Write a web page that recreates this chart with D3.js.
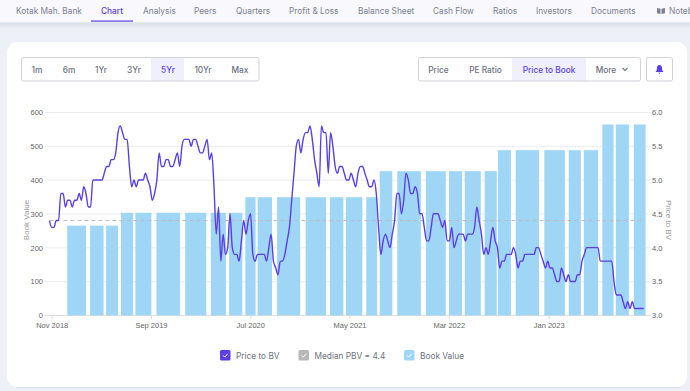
<!DOCTYPE html>
<html>
<head>
<meta charset="utf-8">
<script src="https://cdn.jsdelivr.net/npm/d3@7/dist/d3.min.js"></script>
<style>
  html, body { margin: 0; padding: 0; background: #edf0f7; overflow: hidden; }
  svg { display: block; }
  .ui { font-family: Inter, "Noto Sans", sans-serif; font-size: 8.3px; fill: #6b7280; }
  .tick text { font-family: "Liberation Sans", Arial, sans-serif; font-size: 7.5px; fill: #666; }
  .axis-label { font-family: "Liberation Sans", Arial, sans-serif; font-size: 8px; fill: #999; }
</style>
</head>
<body>
<div id="chart"></div>
<script>
// Weekly price to book readings, first one is the week before the Nov 2018 tick
const priceToBook = [
  4.4, 4.3, 4.3, 4.4, 4.4, 4.8, 4.8, 4.6, 4.7, 4.7, 4.6, 4.7, 4.7, 4.8, 4.7, 4.9, 4.8, 4.6, 4.6, 5.0,
  5.0, 5.0, 5.0, 5.0, 5.1, 5.2, 5.2, 5.3, 5.3, 5.4, 5.7, 5.8, 5.7, 5.6, 5.6, 5.2, 4.9, 5.0, 4.9, 5.0,
  5.0, 5.0, 5.1, 5.0, 4.9, 4.7, 4.8, 5.0, 5.4, 5.2, 5.2, 5.3, 5.3, 5.2, 5.2, 5.3, 5.4, 5.2, 5.5, 5.6,
  5.6, 5.6, 5.5, 5.6, 5.6, 5.5, 5.4, 5.4, 5.5, 5.6, 5.3, 5.4, 4.9, 4.2, 4.6, 3.8, 4.2, 3.9, 4.0, 4.5,
  4.0, 3.9, 3.9, 3.8, 4.1, 4.4, 4.2, 4.4, 4.5, 3.9, 3.8, 3.9, 3.9, 3.9, 3.9, 3.8, 4.0, 4.2, 3.8, 3.7,
  3.6, 3.8, 3.8, 3.9, 4.1, 4.3, 4.7, 5.1, 5.5, 5.6, 5.4, 5.6, 5.7, 5.7, 5.8, 5.6, 5.3, 5.1, 4.9, 5.8,
  5.7, 5.7, 5.1, 5.7, 5.5, 5.2, 5.1, 5.2, 5.2, 5.1, 5.0, 5.0, 5.1, 5.0, 4.9, 5.1, 5.2, 5.2, 5.1, 5.0,
  4.9, 4.9, 5.0, 4.8, 4.3, 3.9, 4.1, 4.2, 4.1, 4.0, 4.2, 4.4, 4.8, 4.8, 4.5, 4.7, 5.1, 5.0, 4.8, 4.8,
  4.9, 4.8, 4.5, 4.5, 4.3, 4.1, 4.1, 4.3, 4.5, 4.5, 4.5, 4.4, 4.3, 4.4, 4.1, 4.1, 4.3, 4.0, 4.1, 4.2,
  4.2, 4.2, 4.1, 4.2, 4.2, 4.2, 4.3, 4.6, 4.4, 4.2, 3.9, 4.0, 3.9, 4.1, 4.3, 4.1, 4.0, 3.7, 3.8, 3.8,
  3.9, 3.9, 3.9, 4.0, 3.9, 3.7, 3.8, 3.8, 3.9, 3.9, 3.9, 3.9, 3.9, 4.0, 4.0, 3.9, 3.8, 3.7, 3.8, 3.7,
  3.7, 3.6, 3.5, 3.5, 3.7, 3.6, 3.5, 3.6, 3.5, 3.5, 3.5, 3.6, 3.6, 3.8, 3.9, 4.0, 4.0, 4.0, 4.0, 4.0,
  4.0, 3.8, 3.8, 3.8, 3.8, 3.8, 3.8, 3.5, 3.3, 3.3, 3.3, 3.2, 3.1, 3.2, 3.1, 3.2, 3.1, 3.1, 3.1, 3.1, 3.1
];

// Book value bars: start and end in weeks from the Nov 2018 tick, then the value
const bookStart = [6.8, 16.8, 23.8, 30.3, 36.6, 45.8, 58.4, 69.6, 77.6, 84.7, 90.1, 98.6, 111.1, 121.7, 128.7,
  137.6, 143.5, 151.2, 163.7, 173.8, 180.7, 189.4, 195.2, 203, 215.5, 226.2, 232.8, 240.9, 246.8, 254.7];
const bookEnd = [15, 22.7, 29, 35.6, 43.6, 56.1, 67.6, 76.2, 83.4, 89.2, 96.4, 108.7, 120, 127.6, 135.9,
  142.4, 149, 161.5, 172.4, 179.5, 187.7, 194.7, 200.9, 213.2, 224.5, 231.5, 239, 245.8, 252.5, 259.8];
const bookValue = [265, 265, 265, 303, 303, 303, 303, 303, 303, 349, 349, 349, 349, 349, 349,
  349, 426, 426, 426, 426, 426, 426, 488, 488, 488, 488, 488, 564, 564, 564];

const medianPbv = 4.4;
const xTickDates = ['2018-11-01', '2019-09-01', '2020-07-01', '2021-05-01', '2022-03-01', '2023-01-01'];
const leftTicks = [0, 100, 200, 300, 400, 500, 600];
const rightTicks = [3.0, 3.5, 4.0, 4.5, 5.0, 5.5, 6.0];

const navItems = ['Kotak Mah. Bank', 'Chart', 'Analysis', 'Peers', 'Quarters', 'Profit & Loss', 'Balance Sheet',
  'Cash Flow', 'Ratios', 'Investors', 'Documents', 'Notebook'];
const navX = [16, 101, 143, 194, 236, 289, 358, 433, 493, 536, 591, 669];
const rangeLabels = ['1m', '6m', '1Yr', '3Yr', '5Yr', '10Yr', 'Max'];
const rangeX = [37, 69, 101, 134, 168, 203, 240];
const metricLabels = ['Price', 'PE Ratio', 'Price to Book', 'More'];
const metricX = [438.5, 485.5, 549, 606];
const legendLabels = ['Price to BV', 'Median PBV = 4.4', 'Book Value'];
const legendColors = ['#5b3fe3', '#b8b8b8', '#9fd6f6'];
const legendX = [220, 298.5, 404];

const width = 690;
const height = 391;
const purple = '#5b3fe3';

const svg = d3.select('#chart')
  .append('svg')
  .attr('width', width)
  .attr('height', height);

const defs = svg.append('defs');
const shadow = defs.append('filter').attr('id', 'soft')
  .attr('x', '-5%').attr('y', '-30%').attr('width', '110%').attr('height', '170%');
shadow.append('feDropShadow').attr('dx', 0).attr('dy', 2).attr('stdDeviation', 3)
  .attr('flood-color', '#8a94b0').attr('flood-opacity', 0.3);

// Top navigation
svg.append('rect').attr('x', -10).attr('y', -10).attr('width', width + 20).attr('height', 32.5)
  .attr('rx', 6).attr('fill', '#f8f8fd').attr('filter', 'url(#soft)');

svg.selectAll('.nav')
  .data(navItems)
  .enter()
  .append('text')
  .attr('class', 'nav ui')
  .attr('x', (d, i) => navX[i])
  .attr('y', 14)
  .style('fill', d => d === 'Chart' ? purple : '#7b8190')
  .style('font-weight', d => d === 'Chart' ? 500 : 400)
  .text(d => d);
svg.append('rect').attr('x', 91).attr('y', 20.5).attr('width', 42).attr('height', 1.2).attr('fill', purple);

// Notebook icon
const book = svg.append('g').attr('fill', '#7b8190');
book.append('path').attr('d', 'M657 8 L660.5 8.8 L660.5 14 L657 13.2 Z');
book.append('path').attr('d', 'M661.5 8.8 L665 8 L665 13.2 L661.5 14 Z');

// Card
svg.append('rect').attr('x', 7).attr('y', 42).attr('width', 680).attr('height', 345)
  .attr('rx', 10).attr('fill', '#fff');
svg.append('line').attr('x1', 16).attr('x2', 680).attr('y1', 387.5).attr('y2', 387.5)
  .attr('stroke', '#dadeea').attr('stroke-width', 1.2);

// Button groups
function buttonBox(x, w) {
  svg.append('rect').attr('x', x).attr('y', 57.5).attr('width', w).attr('height', 23.5)
    .attr('rx', 2).attr('fill', 'none').attr('stroke', '#cfd1d6');
}
svg.append('rect').attr('x', 151).attr('y', 58).attr('width', 33).attr('height', 23).attr('fill', '#f0effd');
svg.append('rect').attr('x', 512).attr('y', 58).attr('width', 74).attr('height', 23).attr('fill', '#f0effd');
buttonBox(21.5, 237.5);
buttonBox(418.5, 222);
buttonBox(646.5, 26);

svg.selectAll('.range')
  .data(rangeLabels)
  .enter()
  .append('text')
  .attr('class', 'range ui')
  .attr('x', (d, i) => rangeX[i])
  .attr('y', 72.5)
  .attr('text-anchor', 'middle')
  .style('fill', d => d === '5Yr' ? purple : '#6b7280')
  .style('font-weight', 500)
  .text(d => d);

svg.selectAll('.metric')
  .data(metricLabels)
  .enter()
  .append('text')
  .attr('class', 'metric ui')
  .attr('x', (d, i) => metricX[i])
  .attr('y', 72.5)
  .attr('text-anchor', 'middle')
  .style('fill', d => d === 'Price to Book' ? purple : '#6b7280')
  .style('font-weight', 500)
  .text(d => d);

// More chevron and bell
svg.append('path').attr('d', 'M622.5 68 L625 70.5 L627.5 68').attr('fill', 'none')
  .attr('stroke', '#6b7280').attr('stroke-width', 1.1);
svg.append('path')
  .attr('d', 'M659.5 65 C657.8 65 657 66.3 657 67.7 C657 70 656.3 71 655.6 72 L663.4 72 C662.7 71 662 70 662 67.7 C662 66.3 661.2 65 659.5 65 Z M658.2 72.7 L660.8 72.7 L659.5 74 Z')
  .attr('fill', purple);

// Scales
const startDate = new Date(Date.UTC(2018, 10, 1));
const weekDate = w => new Date(+startDate + w * 7 * 864e5);
const xTicks = xTickDates.map(d => new Date(d + 'T00:00:00Z'));

const xScale = d3.scaleUtc()
  .domain([xTicks[0], xTicks[xTicks.length - 1]])
  .range([51.7, 548.7]);
const yLeft = d3.scaleLinear().domain([0, 600]).range([315.3, 112.3]);
const yRight = d3.scaleLinear().domain([3, 6]).range([315.3, 112.3]);

// Gridlines
svg.append('g')
  .selectAll('line')
  .data(leftTicks)
  .enter()
  .append('line')
  .attr('x1', 45)
  .attr('x2', 651)
  .attr('y1', d => yLeft(d) + 0.2)
  .attr('y2', d => yLeft(d) + 0.2)
  .attr('stroke', d => d === 0 ? '#dcdcdc' : '#ececec');

// Book value bars
svg.append('g')
  .selectAll('rect')
  .data(bookValue)
  .enter()
  .append('rect')
  .attr('x', (d, i) => xScale(weekDate(bookStart[i])))
  .attr('y', d => yLeft(d))
  .attr('width', (d, i) => xScale(weekDate(bookEnd[i])) - xScale(weekDate(bookStart[i])))
  .attr('height', d => yLeft(0) - yLeft(d))
  .attr('fill', '#9fd6f6');

// Median line
svg.append('line')
  .attr('x1', xScale(weekDate(-1)))
  .attr('x2', xScale(weekDate(259)))
  .attr('y1', yRight(medianPbv))
  .attr('y2', yRight(medianPbv))
  .attr('stroke', '#bdbdbd')
  .attr('stroke-width', 1)
  .attr('stroke-dasharray', '4 3');

// Price to book line
const line = d3.line()
  .x((d, i) => xScale(weekDate(i - 1)))
  .y(d => yRight(d))
  .curve(d3.curveMonotoneX);

svg.append('path')
  .datum(priceToBook)
  .attr('d', line)
  .attr('fill', 'none')
  .attr('stroke', purple)
  .attr('stroke-width', 1.4);

// Axes
const xAxis = svg.append('g')
  .attr('transform', 'translate(0,315.3)')
  .call(d3.axisBottom(xScale).tickValues(xTicks).tickSize(4).tickPadding(3)
    .tickFormat(d3.utcFormat('%b %Y')));
const leftAxis = svg.append('g')
  .attr('transform', 'translate(45,0)')
  .call(d3.axisLeft(yLeft).tickValues(leftTicks).tickSize(0).tickPadding(2));
const rightAxis = svg.append('g')
  .attr('transform', 'translate(651,0)')
  .call(d3.axisRight(yRight).tickValues(rightTicks).tickSize(0).tickPadding(1)
    .tickFormat(d3.format('.1f')));

xAxis.select('.domain').remove();
leftAxis.select('.domain').remove();
rightAxis.select('.domain').remove();
xAxis.selectAll('.tick line').attr('stroke', '#dcdcdc');

svg.append('text')
  .attr('class', 'axis-label')
  .attr('transform', 'translate(28.5,220) rotate(-90)')
  .attr('text-anchor', 'middle')
  .text('Book Value');
svg.append('text')
  .attr('class', 'axis-label')
  .attr('transform', 'translate(665.5,220) rotate(90)')
  .attr('text-anchor', 'middle')
  .text('Price to BV');

// Legend
const legend = svg.selectAll('.legend')
  .data(legendLabels)
  .enter()
  .append('g')
  .attr('class', 'legend')
  .attr('transform', (d, i) => `translate(${legendX[i]},350)`);

legend.append('rect')
  .attr('width', 10.5)
  .attr('height', 10.5)
  .attr('rx', 1.5)
  .attr('fill', (d, i) => legendColors[i]);
legend.append('path')
  .attr('d', 'M3 5.4 L4.7 7.1 L7.8 3.8')
  .attr('fill', 'none')
  .attr('stroke', '#fff')
  .attr('stroke-width', 1);
legend.append('text')
  .attr('class', 'ui')
  .attr('x', 16)
  .attr('y', 8.5)
  .style('fill', '#6b7280')
  .text(d => d);
</script>
</body>
</html>
